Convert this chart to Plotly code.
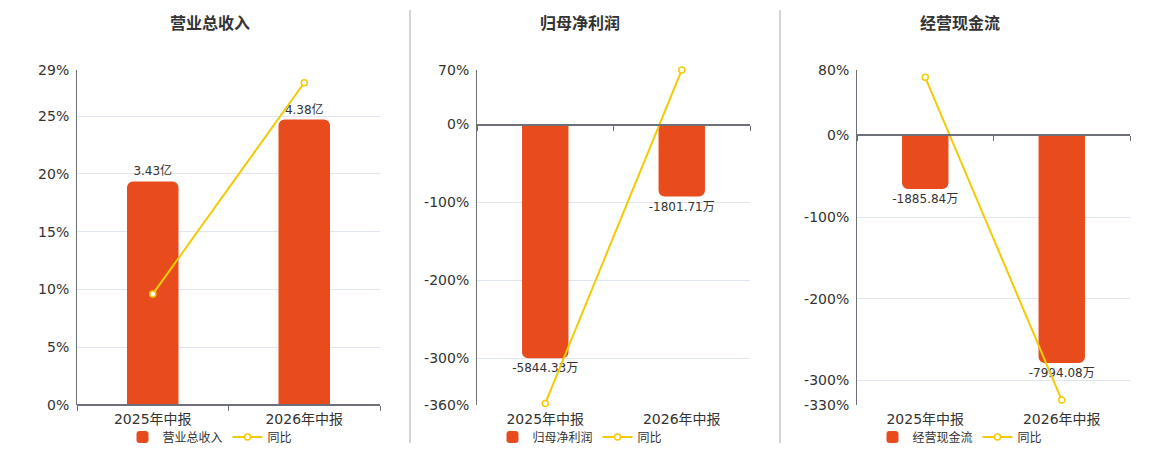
import plotly.graph_objects as go

# --- data ---
periods = ["2025年中报", "2026年中报"]

panel_titles = ["营业总收入", "归母净利润", "经营现金流"]
bar_values = [[3.43, 4.38], [-5844.33, -1801.71], [-1885.84, -7994.08]]
bar_labels = [["3.43亿", "4.38亿"], ["-5844.33万", "-1801.71万"], ["-1885.84万", "-7994.08万"]]
yoy_values = [[9.6, 27.9], [-358.0, 70.0], [71.0, -324.0]]

pct_ranges = [[0, 29], [-360, 70], [-330, 80]]
pct_ticks = [[0, 5, 10, 15, 20, 25, 29], [-360, -300, -200, -100, 0, 70], [-330, -300, -200, -100, 0, 80]]
bar_ranges = [[0, 5.14], [-7013, 1364], [-9471, 2296]]

# --- styling ---
OFF = 8  # browser body margin
W, H = 1160 - 2 * OFF, 460 - OFF  # a bit taller than the window so the legend never pushes the margins
BAR_COLOR = "#e84c1c"
LINE_COLOR = "#f2cb05"
AXIS_COLOR = "#6e7079"
GRID_COLOR = "#e0e6f1"
TEXT_COLOR = "#333333"
FONT = "DejaVu Sans, Noto Sans CJK SC"
CJK = "Noto Sans CJK SC"


def px(x):
    return (x - OFF) / W


def py(y):
    return 1 - (y - OFF) / H


x_domains = [[px(77), px(380)], [px(477), px(750)], [px(857), px(1130)]]
y_domain = [py(405), py(70)]
centers = [px(210), px(580), px(960)]

fig = go.Figure()
layout = dict(
    width=W,
    height=H,
    margin=dict(l=0, r=0, t=0, b=0),
    paper_bgcolor="white",
    plot_bgcolor="white",
    font=dict(family=FONT, color=TEXT_COLOR, size=12),
    bargap=0.66,
    annotations=[],
    shapes=[],
)

for i in range(3):
    n = i + 1
    xa, ya = f"x{n}", f"y{n}"
    xo, yo = f"x{n + 3}", f"y{n + 3}"
    leg = "legend" if i == 0 else f"legend{n}"

    fig.add_trace(go.Bar(
        x=periods,
        y=bar_values[i],
        text=bar_labels[i],
        textposition="outside",
        constraintext="none",
        textfont=dict(size=12, color=TEXT_COLOR, family=FONT),
        cliponaxis=False,
        marker=dict(color=BAR_COLOR, cornerradius=6, line=dict(width=0)),
        name=panel_titles[i],
        xaxis=xa,
        yaxis=ya,
        legend=leg,
        hoverinfo="skip",
    ))
    fig.add_trace(go.Scatter(
        x=periods,
        y=yoy_values[i],
        mode="lines+markers",
        line=dict(color=LINE_COLOR, width=2),
        marker=dict(symbol="circle", size=6, color="white", line=dict(color=LINE_COLOR, width=1.5)),
        name="同比",
        xaxis=xo,
        yaxis=yo,
        legend=leg,
        cliponaxis=False,
    ))

    # position of the 0% line in paper coords
    lo, hi = pct_ranges[i]
    zero_y = y_domain[0] + (0 - lo) / (hi - lo) * (y_domain[1] - y_domain[0])

    layout[f"xaxis{n}"] = dict(
        domain=x_domains[i], anchor=ya, type="category", range=[-0.5, 1.5],
        showline=False, ticks="", showgrid=False, ticklabelstandoff=4,
        tickfont=dict(size=14, color=TEXT_COLOR, family=FONT), automargin=False,
    )
    layout[f"yaxis{n}"] = dict(
        domain=y_domain, anchor=xa, range=bar_ranges[i],
        visible=False, showgrid=False, zeroline=False,
    )
    layout[f"xaxis{n + 3}"] = dict(
        overlaying=xa, anchor="free", position=zero_y, type="category", range=[-0.5, 1.5],
        showline=True, linecolor=AXIS_COLOR, linewidth=2 if i else 1.5,
        ticks="outside", tickson="boundaries", ticklen=5, tickcolor=AXIS_COLOR,
        showticklabels=False, showgrid=False, automargin=False,
    )
    layout[f"yaxis{n + 3}"] = dict(
        overlaying=ya, anchor=xo, side="left", range=pct_ranges[i],
        tickvals=pct_ticks[i], ticktext=[f"{v}%" for v in pct_ticks[i]],
        tickfont=dict(size=14, color=TEXT_COLOR, family=FONT),
        showgrid=True, gridcolor=GRID_COLOR, gridwidth=1,
        zeroline=False, showline=True, linecolor=AXIS_COLOR, linewidth=1,
        ticks="", ticklabelstandoff=4, automargin=False,
    )
    layout[leg] = dict(
        orientation="h", x=centers[i], xanchor="center",
        y=py(437), yanchor="middle",
        font=dict(size=12, color=TEXT_COLOR, family=CJK), bgcolor="rgba(0,0,0,0)",
        itemwidth=30, tracegroupgap=0,
    )
    layout["annotations"].append(dict(
        text=f"<b>{panel_titles[i]}</b>", x=centers[i], y=py(22),
        xref="paper", yref="paper", showarrow=False,
        xanchor="center", yanchor="middle",
        font=dict(size=16, color=TEXT_COLOR, family=CJK),
    ))

# panel separators
for sep_x in (410, 780):
    layout["shapes"].append(dict(
        type="line", xref="paper", yref="paper",
        x0=px(sep_x), x1=px(sep_x), y0=py(10), y1=py(443),
        line=dict(color="#aaaaaa", width=1),
    ))

fig.update_layout(**layout)
fig.write_html("out.html")
